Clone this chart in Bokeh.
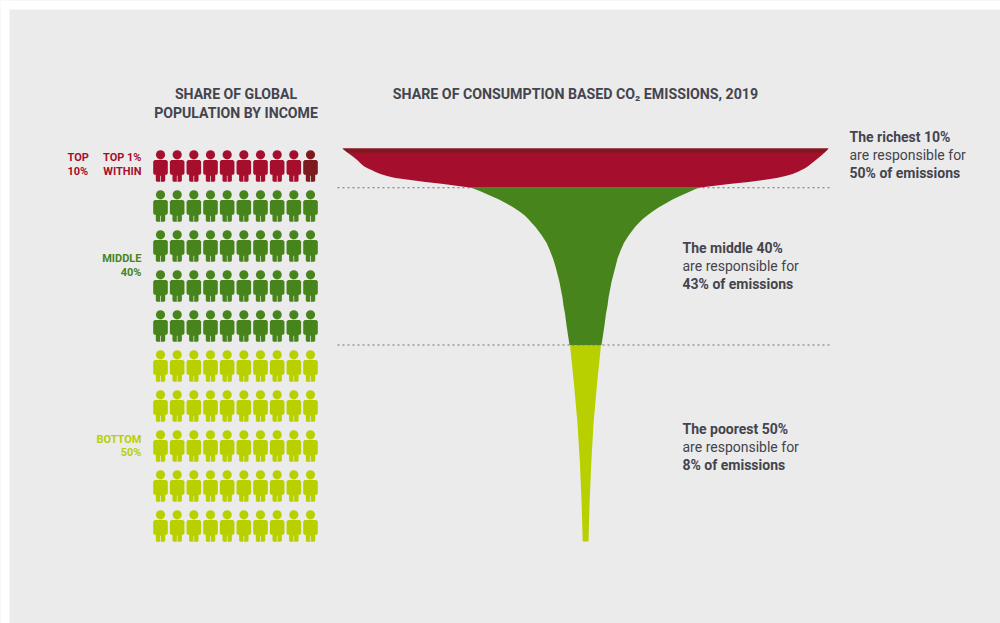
from bokeh.plotting import figure
from bokeh.models import Range1d, ColumnDataSource
from bokeh.core.properties import value
from bokeh.embed import file_html
from bokeh.resources import INLINE

# ---- data ----
group_names = ["Top 1%", "Rest of top 10%", "Middle 40%", "Bottom 50%"]
group_people = [1, 9, 40, 50]   # people out of 100
band_pop = [0, 1, 10, 50, 100]

red_pop = [0, 0.5, 1, 1.5, 2, 2.5, 3, 3.5, 4, 4.5, 5, 5.5, 6, 6.5, 7, 7.5, 8, 8.5, 9, 9.5, 10]
red_left = [243, 240.5, 238, 235.5, 233, 230.5, 228, 226, 224, 221.5, 218, 214, 210, 205, 198.5, 190, 175, 160, 144, 129, 114]
red_right = [243, 241, 239, 237, 235, 232.5, 230, 227.5, 225, 222.5, 219.5, 216, 212, 207, 200, 191, 178, 163, 146, 129, 113]

green_pop = [10, 11, 12, 13, 14, 15, 16, 17, 18, 19, 20, 22, 24, 26, 28, 30, 32, 34, 36, 38, 40, 42, 45, 50]
green_left = [114, 104, 95, 86.5, 79, 72, 66, 61, 57, 53.5, 50, 44, 39, 35.5, 32.5, 30, 28, 26, 24.5, 23, 22, 20.5, 19, 16]
green_right = [113, 104, 95, 87, 80, 73, 67, 62, 57, 53, 49.5, 43.5, 38.5, 35, 32, 30, 28, 26, 24.5, 23, 22, 20.5, 19, 16]

yellow_pop = [50, 60, 70, 80, 90, 100]
yellow_left = [15.5, 11.5, 8, 5.6, 3.9, 2.8]
yellow_right = [15.5, 11.5, 8, 5.8, 4.1, 3.0]

# ---- styles ----
BG = "#ebebeb"
DARK = "#7d1a1f"
RED = "#a60e2d"
GREEN = "#47841b"
YELLOW = "#b9d000"
INK = "#44444e"
HEAD = "Roboto"
BODY = "Roboto"

W, H = 1000, 623
p = figure(width=W, height=H, output_backend="svg", toolbar_location=None,
           x_range=Range1d(0, W), y_range=Range1d(H, 0),
           min_border=0, background_fill_color=BG, border_fill_color=BG,
           outline_line_color=None)
p.axis.visible = False
p.grid.visible = False

# white page edge seen at the top and left of the reference
p.quad(left=[0, 0], right=[9, W], top=[0, 0], bottom=[H, 9], fill_color="white", line_color=None)

# population-rank scale for the funnel (0 = richest, 100 = poorest)
POP_Y0, POP_PX = 148.0, 3.93
p.extra_y_ranges["pop"] = Range1d((H - POP_Y0) / POP_PX, (0 - POP_Y0) / POP_PX)
CX = 585.0
p.extra_x_ranges["hw"] = Range1d(-CX, W - CX)

# people grid scale
COL_X0, COL_PX, ROW_Y0, ROW_PX = 160.0, 16.667, 154.3, 40.0
p.extra_x_ranges["col"] = Range1d((0 - COL_X0) / COL_PX, (W - COL_X0) / COL_PX)
p.extra_y_ranges["row"] = Range1d((H - ROW_Y0) / ROW_PX, (0 - ROW_Y0) / ROW_PX)


def band(pop, left, right, color):
    xs = [-v for v in left] + [v for v in reversed(right)]
    ys = list(pop) + list(reversed(pop))
    p.patch(xs, ys, x_range_name="hw", y_range_name="pop", fill_color=color,
            line_color=None)


band(red_pop, red_left, red_right, RED)
band(green_pop, green_left, green_right, GREEN)
band(yellow_pop, yellow_left, yellow_right, YELLOW)
# top 1 % slice of the funnel
band(red_pop[:3], red_left[:3], red_right[:3], DARK)

# dotted dividers
p.segment(x0=[-248, -248], x1=[245, 245], y0=[band_pop[2], band_pop[3]],
          y1=[band_pop[2], band_pop[3]], x_range_name="hw", y_range_name="pop",
          line_color="#707070", line_width=1.1, line_dash="2 3")

# people
colors = {"Top 1%": DARK, "Rest of top 10%": RED, "Middle 40%": GREEN, "Bottom 50%": YELLOW}
people = []
for name, n in zip(group_names, group_people):
    people += [colors[name]] * n
# first row shows the top 1 % in the last seat
people[0:10] = people[1:10] + people[0:1]

OUT = [(-5.8, 5.3), (5.8, 5.3), (7.3, 6.8), (7.3, 18.5), (6.3, 20), (4.7, 20), (4.7, 26), (3.7, 27), (0.35, 27),
       (0.35, 21), (-0.35, 21), (-0.35, 27), (-3.7, 27), (-4.7, 26), (-4.7, 20), (-6.3, 20), (-7.3, 18.5), (-7.3, 6.8)]
cols, rows, xs, ys = [], [], [], []
for i in range(len(people)):
    r, c = divmod(i, 10)
    cols.append(c)
    rows.append(r)
    xs.append([c + dx / COL_PX for dx, dy in OUT])
    ys.append([r + dy / ROW_PX for dx, dy in OUT])
src = ColumnDataSource(dict(col=cols, row=rows, xs=xs, ys=ys, color=people))
p.patches("xs", "ys", source=src, x_range_name="col", y_range_name="row",
          fill_color="color", line_color=None)
p.scatter("col", "row", source=src, x_range_name="col", y_range_name="row", size=9.2,
          marker="circle", fill_color="color", line_color=None)


def label(x, y, text, color=INK, size=14, bold=False, font=BODY, align="left"):
    p.text([x], [y], text=[text], text_color=color, text_font=value(font),
           text_font_size=f"{size}px", text_font_style="bold" if bold else "normal",
           text_align=align, text_baseline="middle")


# headers
label(235.5, 93, "SHARE OF GLOBAL", size=14.1, bold=True, font=HEAD, align="center")
label(235.5, 112, "POPULATION BY INCOME", size=14.1, bold=True, font=HEAD, align="center")
label(575, 93, "SHARE OF CONSUMPTION BASED CO\u2082 EMISSIONS, 2019", size=14.2, bold=True,
      font=HEAD, align="center")

# side labels
LAB = 11
label(67, 157, "TOP", RED, LAB, True, HEAD)
label(67, 171, "10%", RED, LAB, True, HEAD)
label(141, 157, "TOP 1%", RED, LAB, True, HEAD, "right")
label(141, 171, "WITHIN", RED, LAB, True, HEAD, "right")
label(141, 258, "MIDDLE", GREEN, LAB, True, HEAD, "right")
label(141, 272, "40%", GREEN, LAB, True, HEAD, "right")
label(141, 439, "BOTTOM", YELLOW, LAB, True, HEAD, "right")
label(141, 452, "50%", YELLOW, LAB, True, HEAD, "right")

# annotations
notes = [(849, 136, "The richest 10%", "50% of emissions"),
         (682, 247, "The middle 40%", "43% of emissions"),
         (682, 428, "The poorest 50%", "8% of emissions")]
for x, y, a, b in notes:
    label(x, y, a, bold=True)
    label(x, y + 18, "are responsible for")
    label(x, y + 36, b, bold=True)

open("out.html", "w").write(file_html(p, INLINE))
